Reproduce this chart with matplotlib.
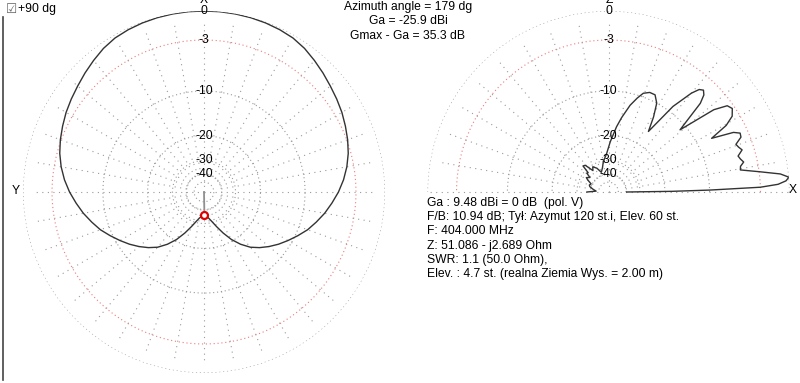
import numpy as np
import matplotlib
matplotlib.use("Agg")
import matplotlib.pyplot as plt
from matplotlib.lines import Line2D

plt.rcParams["font.family"] = ["Liberation Sans", "DejaVu Sans"]

# azimuth pattern (left plot), dB below Gmax, azimuth 0..180 dg, mirrored for 180..360
az_deg = np.arange(0, 181, 5)
az_db = [0.0, 0.0, -0.02, -0.05, -0.1, -0.18, -0.3, -0.55, -0.9, -1.25,
         -1.6, -1.9, -2.2, -2.55, -2.9, -3.3, -3.8, -4.4, -5.1, -5.9,
         -6.7, -7.6, -8.5, -9.6, -10.7, -11.8, -13.0, -14.3, -15.8, -17.9,
         -20.5, -23.8, -27.3, -30.5, -33.0, -34.6, -35.3]

# elevation pattern (right plot), dB below Gmax
el_deg = [0, 0.6, 1.1, 1.8, 2.6, 3.6, 4.7, 6.0, 7.6, 9.5, 11.0, 12.5, 14.0,
          15.5, 17.5, 19.0, 20.5, 22.5, 24.1, 25.5, 27.5, 29.5, 31.5, 34.0,
          36.0, 38.0, 41.0, 44.0, 45.5, 47.0, 48.5, 50.0, 53.0, 56.6, 59.0,
          61.5, 64.4, 67.5, 70.6, 73.0, 76.0, 80.0, 83.0, 88.0, 92.7, 99.7,
          104, 110, 116, 122, 126, 131, 134.4, 136.5, 139, 142, 147, 150,
          155, 160, 164, 170, 176, 180]
el_db = [-39.5, -18.0, -9.9, -3.0, -1.1, -0.3, 0.0, -0.8, -2.9, -5.2, -5.1,
         -4.6, -4.9, -5.1, -4.4, -4.7, -4.9, -4.0, -3.9, -4.6, -7.6, -5.0,
         -3.8, -3.3, -3.6, -5.2, -11.1, -6.0, -4.9, -4.5, -4.8, -5.8, -9.0,
         -15.7, -12.5, -10.0, -8.9, -8.9, -9.4, -10.5, -12.1, -15.0, -17.4,
         -22.0, -26.5, -30.4, -34.0, -37.0, -33.0, -31.0, -33.0, -28.0,
         -27.5, -32.0, -31.6, -35.0, -33.0, -34.8, -38.5, -37.5, -38.3,
         -42.0, -46.0, -36.5]

ring_db = [0, -3, -10, -20, -30, -40, -50]
ring_labels = ["0", "-3", "-10", "-20", "-30", "-40", ""]

cursor_az = 179
cursor_db = -35.3

info_top = ["Azimuth angle = 179 dg", "Ga = -25.9 dBi", "Gmax - Ga = 35.3 dB"]
info_bottom = [
    "Ga : 9.48 dBi = 0 dB  (pol. V)",
    "F/B: 10.94 dB; Tył: Azymut 120 st.i, Elev. 60 st.",
    "F: 404.000 MHz",
    "Z: 51.086 - j2.689 Ohm",
    "SWR: 1.1 (50.0 Ohm),",
    "Elev. : 4.7 st. (realna Ziemia Wys. = 2.00 m)",
]


def arrl(db):
    # ARRL log scale used by MMANA
    return 0.89 ** (-np.asarray(db, dtype=float) / 2.0)


W, H = 800, 383
FS = 8.7
GRID = "#9a9a9a"
RING = (0, (1, 2.5))
SPOKE = (0, (1, 4))

fig = plt.figure(figsize=(W / 100, H / 100), dpi=100)
fig.patch.set_facecolor("white")


def polar_at(cx, cy, R):
    ax = fig.add_axes([(cx - R) / W, (H - cy - R) / H, 2 * R / W, 2 * R / H],
                      projection="polar")
    ax.set_axis_off()
    ax.set_ylim(0, 1)
    return ax


def grid(ax, half):
    t = np.linspace(0, np.pi if half else 2 * np.pi, 400)
    for db in ring_db:
        c = "#ee7b7b" if db == -3 else GRID
        ax.plot(t, np.full_like(t, arrl(db)), color=c, lw=0.8, ls=RING)
    r_in = float(arrl(-40))
    spokes = range(0, 181, 10) if half else range(0, 360, 10)
    for a in spokes:
        r_out = 1.0 if half and a in (0, 180) else 0.95
        ax.plot([np.deg2rad(a)] * 2, [0 if a % 90 == 0 else r_in, r_out],
                color=GRID, lw=0.8, ls=SPOKE)


# left: azimuth plot
axl = polar_at(204, 192, 181)
axl.set_theta_zero_location("N")
axl.set_theta_direction(-1)
grid(axl, False)
az_full = np.concatenate([az_deg, 360 - az_deg[::-1][1:]])
db_full = np.concatenate([az_db, az_db[::-1][1:]])
axl.plot(np.deg2rad(az_full), arrl(db_full), color="#333333", lw=1.0)
tc = np.deg2rad(cursor_az)
axl.plot([tc, tc], [0, arrl(cursor_db)], color="#909090", lw=1.3)
axl.plot(tc, arrl(cursor_db), "o", ms=5, mfc="white", mec="#e00000", mew=1.6)
for db, lab in zip(ring_db, ring_labels):
    axl.text(0, arrl(db), lab, ha="center", va="center", fontsize=FS)

# right: elevation plot
axr = polar_at(608.5, 192, 181)
grid(axr, True)
axr.plot(np.deg2rad(el_deg), arrl(el_db), color="#333333", lw=1.0)
for db, lab in zip(ring_db, ring_labels):
    axr.text(np.pi / 2, arrl(db), lab, ha="center", va="center", fontsize=FS)

# texts
for i, s in enumerate(info_top):
    fig.text(408 / W, 1 - (7 + 14.5 * i) / H, s, ha="center", va="center", fontsize=FS)
for i, s in enumerate(info_bottom):
    fig.text(427 / W, 1 - (203 + 14.2 * i) / H, s, ha="left", va="center", fontsize=FS)

fig.text(6 / W, 1 - 9 / H, "\u2611", family="DejaVu Sans", fontsize=9, color="#666666",
         ha="left", va="center")
fig.text(18 / W, 1 - 9 / H, "+90 dg", ha="left", va="center", fontsize=FS)
fig.text(16 / W, 1 - 191 / H, "Y", ha="center", va="center", fontsize=FS)
fig.text(793 / W, 1 - 190 / H, "X", ha="center", va="center", fontsize=FS)
fig.text(204 / W, 1 + 0 / H, "X", ha="center", va="center", fontsize=FS)
fig.text(609 / W, 1 + 0 / H, "Z", ha="center", va="center", fontsize=FS)

fig.add_artist(Line2D([3 / W, 3 / W], [1 - 17 / H, 1 - 380 / H], color="#444444", lw=1.2))

fig.savefig("out.png", dpi=100)
